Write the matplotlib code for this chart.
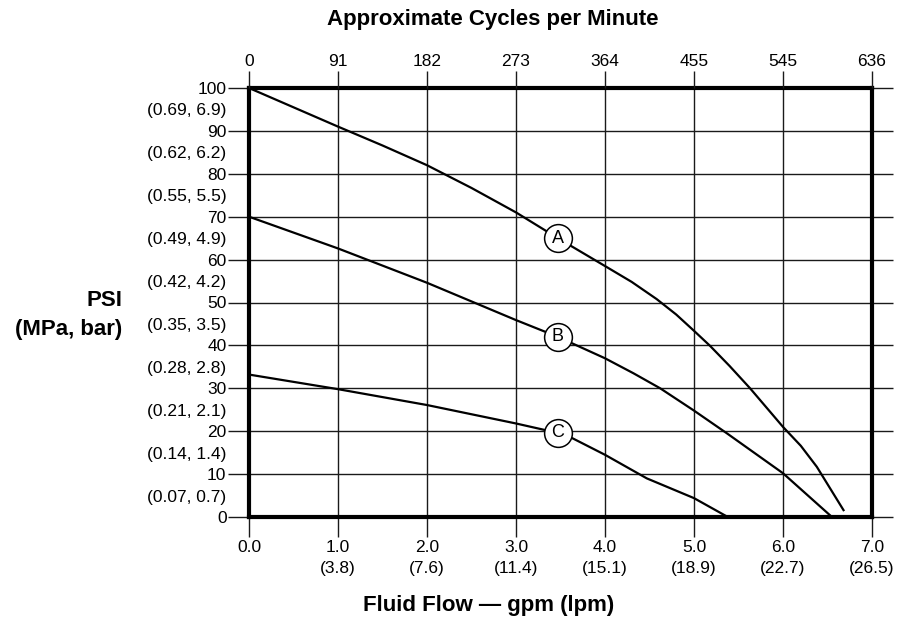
import numpy as np
import matplotlib
matplotlib.use("Agg")
import matplotlib.pyplot as plt

# Fluid flow (gpm) vs pressure (psi)
flow_a = [0, 0.5, 1.0, 1.5, 2.0, 2.5, 3.0, 3.47, 4.0, 4.3, 4.58, 4.8, 5.0, 5.18, 5.4, 5.63, 6.0, 6.2, 6.38, 6.68]
psi_a = [100, 95.5, 91, 86.6, 82, 76.7, 71, 65, 58.5, 54.8, 50.8, 47.2, 43.4, 39.9, 35.2, 30, 21, 16.6, 11.7, 1.6]

flow_b = [0, 1.0, 2.0, 3.0, 3.47, 4.0, 4.32, 4.62, 5.0, 5.37, 6.0, 6.55]
psi_b = [70, 62.6, 54.6, 45.9, 42, 37, 33.5, 30, 24.8, 19.5, 10.2, 0]

flow_c = [0, 1.0, 2.0, 3.0, 3.47, 3.64, 4.0, 4.47, 5.0, 5.38]
psi_c = [33.2, 29.8, 26.1, 21.8, 19.6, 18.3, 14.5, 9.0, 4.4, 0]

curve_names = ["A", "B", "C"]
label_flow = 3.47

gpm_ticks = [0, 1, 2, 3, 4, 5, 6, 7]
gpm_labels = ["0.0", "1.0\n(3.8)", "2.0\n(7.6)", "3.0\n(11.4)", "4.0\n(15.1)",
              "5.0\n(18.9)", "6.0\n(22.7)", "7.0\n(26.5)"]
cpm_labels = ["0", "91", "182", "273", "364", "455", "545", "636"]

psi_ticks = [0, 10, 20, 30, 40, 50, 60, 70, 80, 90, 100]
mid_ticks = [5, 15, 25, 35, 45, 55, 65, 75, 85, 95]
mid_labels = ["(0.07, 0.7)", "(0.14, 1.4)", "(0.21, 2.1)", "(0.28, 2.8)", "(0.35, 3.5)",
              "(0.42, 4.2)", "(0.49, 4.9)", "(0.55, 5.5)", "(0.62, 6.2)", "(0.69, 6.9)"]

plt.rcParams["font.family"] = ["Liberation Sans", "DejaVu Sans"]

W, H = 911, 630
fig = plt.figure(figsize=(W / 100, H / 100), dpi=100)
ax = fig.add_axes([249 / W, 1 - 517 / H, (872 - 249) / W, (517 - 88) / H])
ax.set_xlim(0, 7)
ax.set_ylim(0, 100)

gc = "#1a1a1a"
ax.grid(True, color=gc, lw=1.0)
ax.set_axisbelow(True)

for s in ax.spines.values():
    s.set_linewidth(3.0)
    s.set_color("black")
    s.set_zorder(5)
    s.set_capstyle("projecting")

for fx, fy in [(flow_a, psi_a), (flow_b, psi_b), (flow_c, psi_c)]:
    ax.plot(fx, fy, color="black", lw=1.6, zorder=3, solid_joinstyle="round")

for name, fx, fy in zip(curve_names, [flow_a, flow_b, flow_c], [psi_a, psi_b, psi_c]):
    py = np.interp(label_flow, fx, fy)
    ax.plot(label_flow, py, "o", ms=20, mfc="white", mec="black", mew=1.1, zorder=4)
    ax.text(label_flow, py, name, ha="center", va="center", fontsize=13, zorder=6)

# bottom axis: gpm (lpm)
ax.set_xticks(gpm_ticks)
ax.set_xticklabels(gpm_labels, fontsize=12.5, linespacing=1.45)
ax.tick_params(axis="x", which="major", direction="out", length=14.4, width=1.0,
               color=gc, pad=2.5)

# left axis: psi, with (MPa, bar) in between; ticks run out on the right too
ax.set_yticks(psi_ticks)
ax.set_yticklabels([str(v) for v in psi_ticks], fontsize=12.5)
ax.set_yticks(mid_ticks, minor=True)
ax.set_yticklabels(mid_labels, minor=True, fontsize=12.5)
ax.tick_params(axis="y", which="major", direction="out", length=15.2, width=1.0,
               color=gc, pad=1.0, left=True, right=True)
ax.tick_params(axis="y", which="minor", length=0, pad=16.2)

# top axis: cycles per minute
ax2 = ax.twiny()
ax2.set_xlim(0, 7)
ax2.set_xticks(gpm_ticks)
ax2.set_xticklabels(cpm_labels, fontsize=12.5)
ax2.tick_params(axis="x", direction="out", length=12.5, width=1.0, color=gc, pad=1.5)
for s in ax2.spines.values():
    s.set_visible(False)

fig.text(493 / W, 1 - 20 / H, "Approximate Cycles per Minute", ha="center", va="center",
         fontsize=16, fontweight="bold")
fig.text(489 / W, 1 - 605 / H, "Fluid Flow \u2014 gpm (lpm)", ha="center", va="center",
         fontsize=16, fontweight="bold")
fig.text(122 / W, 1 - 300 / H, "PSI", ha="right", va="center",
         fontsize=16, fontweight="bold")
fig.text(122 / W, 1 - 330 / H, "(MPa, bar)", ha="right", va="center",
         fontsize=16, fontweight="bold")

fig.savefig("out.png", dpi=100)
